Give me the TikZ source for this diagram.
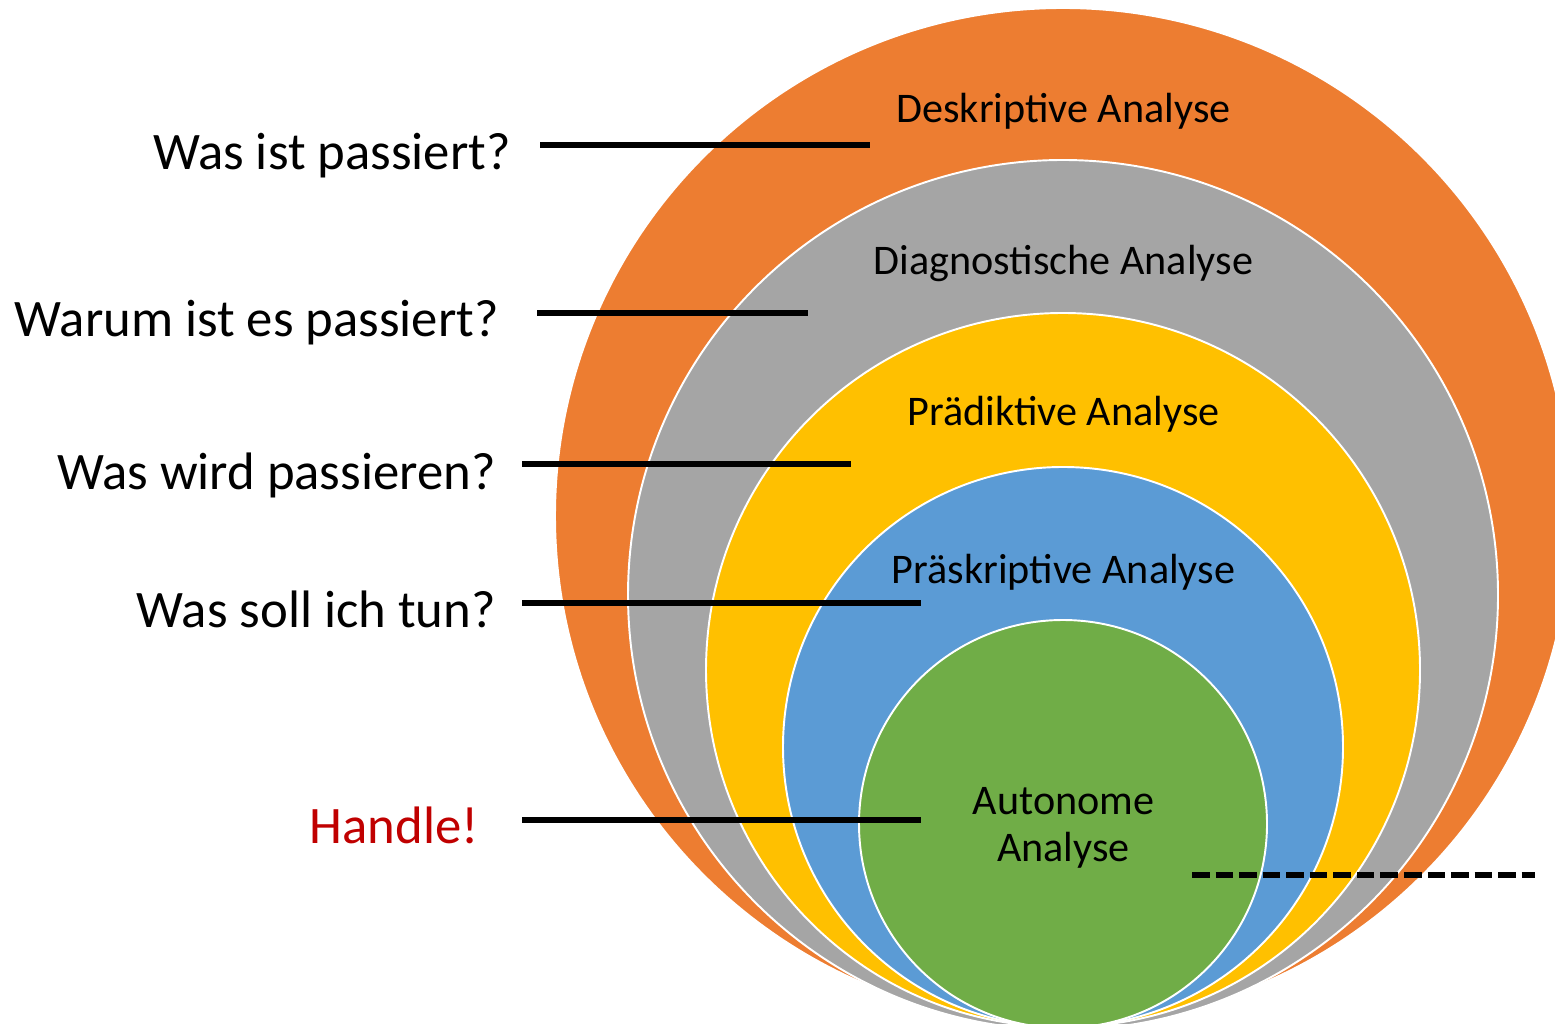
\documentclass[tikz,border=0pt]{standalone}
\usepackage{fontspec}
\setmainfont{Carlito}
\definecolor{descorange}{HTML}{ED7D31}
\definecolor{diaggray}{HTML}{A5A5A5}
\definecolor{predyellow}{HTML}{FFC000}
\definecolor{presblue}{HTML}{5B9BD5}
\definecolor{autogreen}{HTML}{70AD47}
\definecolor{actred}{HTML}{C00000}
\tikzset{
  ring/.style={draw=white, line width=1.1pt},
  ringlabel/.style={anchor=base, align=center, font=\fontsize{24pt}{26.6pt}\selectfont},
  question/.style={anchor=base east, inner sep=0pt, font=\fontsize{30pt}{36pt}\selectfont},
  pointer/.style={line width=3.2pt},
}
\begin{document}
\begin{tikzpicture}
    \useasboundingbox (0, 0) rectangle (31.1, 20.46);
    \clip (0, 0) rectangle (31.1, 20.46);

    % the nested circles
    \filldraw[ring, fill=descorange] (21.26, 10.14) circle (10.16);
    \filldraw[ring, fill=diaggray] (21.26, 8.56) circle (8.70);
    \filldraw[ring, fill=predyellow] (21.26, 7.06) circle (7.14);
    \filldraw[ring, fill=presblue] (21.26, 5.52) circle (5.60);
    \filldraw[ring, fill=autogreen] (21.26, 3.98) circle (4.08);

    \node[ringlabel] (desc) at (21.27, 18.0) {Deskriptive Analyse};
    \node[ringlabel] (diag) at (21.27, 14.96) {Diagnostische Analyse};
    \node[ringlabel] (pred) at (21.27, 11.94) {Prädiktive Analyse};
    \node[ringlabel] (pres) at (21.27, 8.8) {Präskriptive Analyse};
    \node[ringlabel] (auto) at (21.27, 3.24) {Autonome\\Analyse};

    % questions on the left
    \node[question] (q1) at (10.22, 17.06) {Was ist passiert?};
    \node[question] (q2) at (9.98, 13.72) {Warum ist es passiert?};
    \node[question] (q3) at (9.92, 10.66) {Was wird passieren?};
    \node[question] (q4) at (9.92, 7.92) {Was soll ich tun?};
    \node[question, text=actred] (q5) at (9.58, 3.6) {Handle!};

    \coordinate (q1s) at (10.8, 17.56);  \coordinate (q1e) at (17.4, 17.56);
    \coordinate (q2s) at (10.74, 14.2);  \coordinate (q2e) at (16.16, 14.2);
    \coordinate (q3s) at (10.44, 11.18); \coordinate (q3e) at (17.02, 11.18);
    \coordinate (q4s) at (10.44, 8.4);   \coordinate (q4e) at (18.42, 8.4);
    \coordinate (q5s) at (10.44, 4.06);  \coordinate (q5e) at (18.42, 4.06);
    \coordinate (cuts) at (23.84, 2.96); \coordinate (cute) at (30.7, 2.96);

    \draw[pointer] (q1s) -- (q1e);
    \draw[pointer] (q2s) -- (q2e);
    \draw[pointer] (q3s) -- (q3e);
    \draw[pointer] (q4s) -- (q4e);
    \draw[pointer] (q5s) -- (q5e);
    \draw[pointer, dash pattern=on 10pt off 3.4pt] (cuts) -- (cute);
  \end{tikzpicture}
\end{document}
